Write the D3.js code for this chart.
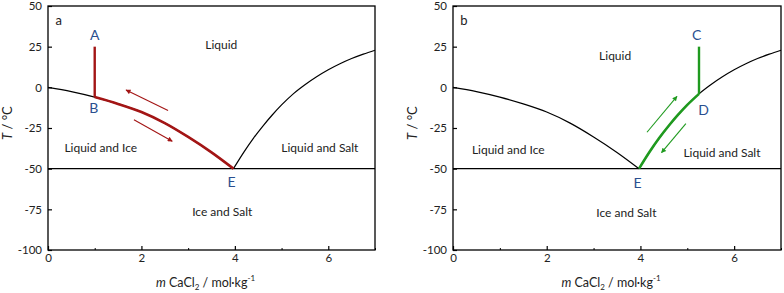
<!DOCTYPE html>
<html>
<head>
<meta charset="utf-8">
<script src="https://cdn.jsdelivr.net/npm/d3@7"></script>
<style>
  body { margin: 0; background: #fff; }
  svg { font-family: Lato, "Open Sans", sans-serif; }
</style>
</head>
<body>
<div id="graph"></div>
<script>
// ice line (freezing curve) and salt solubility curve, [m, T]
const iceCurve = [[0, 0], [0.5, -2.6], [1, -6], [1.5, -10.2], [2, -15.2], [2.5, -22], [3, -30.5], [3.5, -40], [3.97, -50]]
const saltCurve = [[3.97, -50], [4.2, -39.5], [4.4, -31.2], [4.6, -23.8], [4.8, -17.0], [5.0, -10.8], [5.25, -4.0],
  [5.5, 1.6], [5.75, 6.5], [6.0, 10.8], [6.25, 14.5], [6.5, 17.7], [6.75, 20.4], [7, 22.8]]
const eutecticT = -50
const xTicks = [0, 2, 4, 6]
const xMinor = [1, 3, 5, 7]
const yTicks = [50, 25, 0, -25, -50, -75, -100]

// path a: A -> B then along ice line ; path b: C -> D then along salt line
const pathA = { m: 1, top: 25, color: '#a31515', curve: 'ice', from: 1 }
const pathB = { m: 5.25, top: 25, color: '#1f9a1f', curve: 'salt', from: 5.25 }
const arrowsA = [[2.57, -14.2, 1.67, -1.6], [1.84, -19.9, 2.66, -33.1]]
const arrowsB = [[4.14, -27.6, 4.78, -5.5], [4.97, -22.3, 4.45, -40.2]]

const regionsA = [['Liquid', 3.71, 26], ['Liquid and Ice', 1.13, -37.3], ['Liquid and Salt', 5.82, -37.3], ['Ice and Salt', 3.73, -76.5]]
const regionsB = [['Liquid', 3.46, 19.2], ['Liquid and Ice', 1.18, -38.1], ['Liquid and Salt', 5.74, -40], ['Ice and Salt', 3.70, -77]]
const pointsA = [['A', 1.0, 32], ['B', 0.98, -12.7], ['E', 3.93, -58.4]]
const pointsB = [['C', 5.2, 32.1], ['D', 5.35, -13.9], ['E', 3.94, -58.6]]

const W = 784, H = 293
const svg = d3.select('#graph').append('svg')
  .attr('width', W).attr('height', H)

let defs = svg.append('defs')
;[pathA, pathB].forEach((p, i) => {
  defs.append('marker')
    .attr('id', 'arr' + i)
    .attr('viewBox', '0 0 10 10')
    .attr('refX', 9).attr('refY', 5)
    .attr('markerWidth', 6).attr('markerHeight', 5)
    .attr('markerUnits', 'userSpaceOnUse')
    .attr('orient', 'auto')
    .append('path')
    .attr('d', 'M0,0 L10,5 L0,10 z')
    .attr('fill', p.color)
})

function panel(left, right, tag, path, arrows, regions, points, idx) {
  let x = d3.scaleLinear().domain([0, 7]).range([left, right])
  let y = d3.scaleLinear().domain([-100, 50]).range([250, 6])
  let g = svg.append('g')

  let line = d3.line()
    .x(d => x(d[0]))
    .y(d => y(d[1]))
    .curve(d3.curveMonotoneX)

  // curves
  g.append('path').datum(iceCurve)
    .attr('fill', 'none').attr('stroke', '#000').attr('stroke-width', 1.2)
    .attr('d', line)
  g.append('path').datum(saltCurve)
    .attr('fill', 'none').attr('stroke', '#000').attr('stroke-width', 1.2)
    .attr('d', line)
  g.append('line')
    .attr('x1', x(0)).attr('x2', x(7))
    .attr('y1', y(eutecticT)).attr('y2', y(eutecticT))
    .attr('stroke', '#000').attr('stroke-width', 1.3)

  // cooling path
  let src = path.curve === 'ice' ? iceCurve.filter(d => d[0] >= path.from)
    : saltCurve.filter(d => d[0] <= path.from)
  let start = src.find(d => d[0] === path.from)
  g.append('line')
    .attr('x1', x(path.m)).attr('x2', x(path.m))
    .attr('y1', y(path.top)).attr('y2', y(start[1]))
    .attr('stroke', path.color).attr('stroke-width', 2.4)
  g.append('path').datum(src)
    .attr('fill', 'none').attr('stroke', path.color).attr('stroke-width', 2.6)
    .attr('d', line)

  g.selectAll('.arrow').data(arrows).join('line')
    .attr('class', 'arrow')
    .attr('x1', d => x(d[0])).attr('y1', d => y(d[1]))
    .attr('x2', d => x(d[2])).attr('y2', d => y(d[3]))
    .attr('stroke', path.color).attr('stroke-width', 1.1)
    .attr('marker-end', `url(#arr${idx})`)

  // frame
  g.append('rect')
    .attr('x', x(0)).attr('y', y(50))
    .attr('width', x(7) - x(0)).attr('height', y(-100) - y(50))
    .attr('fill', 'none').attr('stroke', '#000').attr('stroke-width', 1.3)

  // axes
  let ya = g.append('g')
    .attr('transform', `translate(${x(0)},0)`)
    .call(d3.axisLeft(y).tickValues(yTicks).tickSize(-4).tickPadding(6).tickFormat(d => String(d)))
  let xa = g.append('g')
    .attr('transform', `translate(0,${y(-100)})`)
    .call(d3.axisBottom(x).tickValues(xTicks).tickSize(-4).tickPadding(4).tickFormat(d => String(d)))
  g.append('g')
    .attr('transform', `translate(0,${y(-100)})`)
    .call(d3.axisBottom(x).tickValues(xMinor).tickSize(-2).tickFormat(''))
    .call(a => a.select('.domain').remove())
  ;[ya, xa].forEach(a => {
    a.select('.domain').remove()
    a.selectAll('text').attr('font-size', 11.5).attr('fill', '#222').attr('font-family', 'Lato, sans-serif')
    a.selectAll('line').attr('stroke-width', 1.2)
  })

  // titles
  let yt = g.append('text')
    .attr('transform', `translate(${x(0) - 36},${y(-22)}) rotate(-90)`)
    .attr('text-anchor', 'middle')
    .attr('font-size', 13).attr('fill', '#222')
  yt.append('tspan').attr('font-style', 'italic').text('T')
  yt.append('tspan').text(' / °C')

  let xt = g.append('text')
    .attr('x', (x(0) + x(7)) / 2 - 6).attr('y', 287)
    .attr('text-anchor', 'middle')
    .attr('font-size', 12.5).attr('fill', '#222')
  xt.append('tspan').attr('font-style', 'italic').text('m')
  xt.append('tspan').text(' CaCl')
  xt.append('tspan').attr('font-size', 8).attr('dy', 3).text('2')
  xt.append('tspan').attr('dy', -3).text(' / mol·kg')
  xt.append('tspan').attr('font-size', 8).attr('dy', -6).text('-1')

  g.append('text')
    .attr('x', x(0.23)).attr('y', y(41)).attr('dy', '0.35em')
    .attr('text-anchor', 'middle')
    .attr('font-size', 13).attr('fill', '#222')
    .text(tag)

  g.selectAll('.region').data(regions).join('text')
    .attr('class', 'region')
    .attr('x', d => x(d[1])).attr('y', d => y(d[2])).attr('dy', '0.35em')
    .attr('text-anchor', 'middle')
    .attr('font-size', 12).attr('fill', '#222')
    .text(d => d[0])

  g.selectAll('.pt').data(points).join('text')
    .attr('class', 'pt')
    .attr('x', d => x(d[1])).attr('y', d => y(d[2])).attr('dy', '0.36em')
    .attr('text-anchor', 'middle')
    .attr('font-size', 14).attr('fill', '#2a4f8f')
    .text(d => d[0])
}

panel(48, 375, 'a', pathA, arrowsA, regionsA, pointsA, 0)
panel(453, 781, 'b', pathB, arrowsB, regionsB, pointsB, 1)
</script>
</body>
</html>
